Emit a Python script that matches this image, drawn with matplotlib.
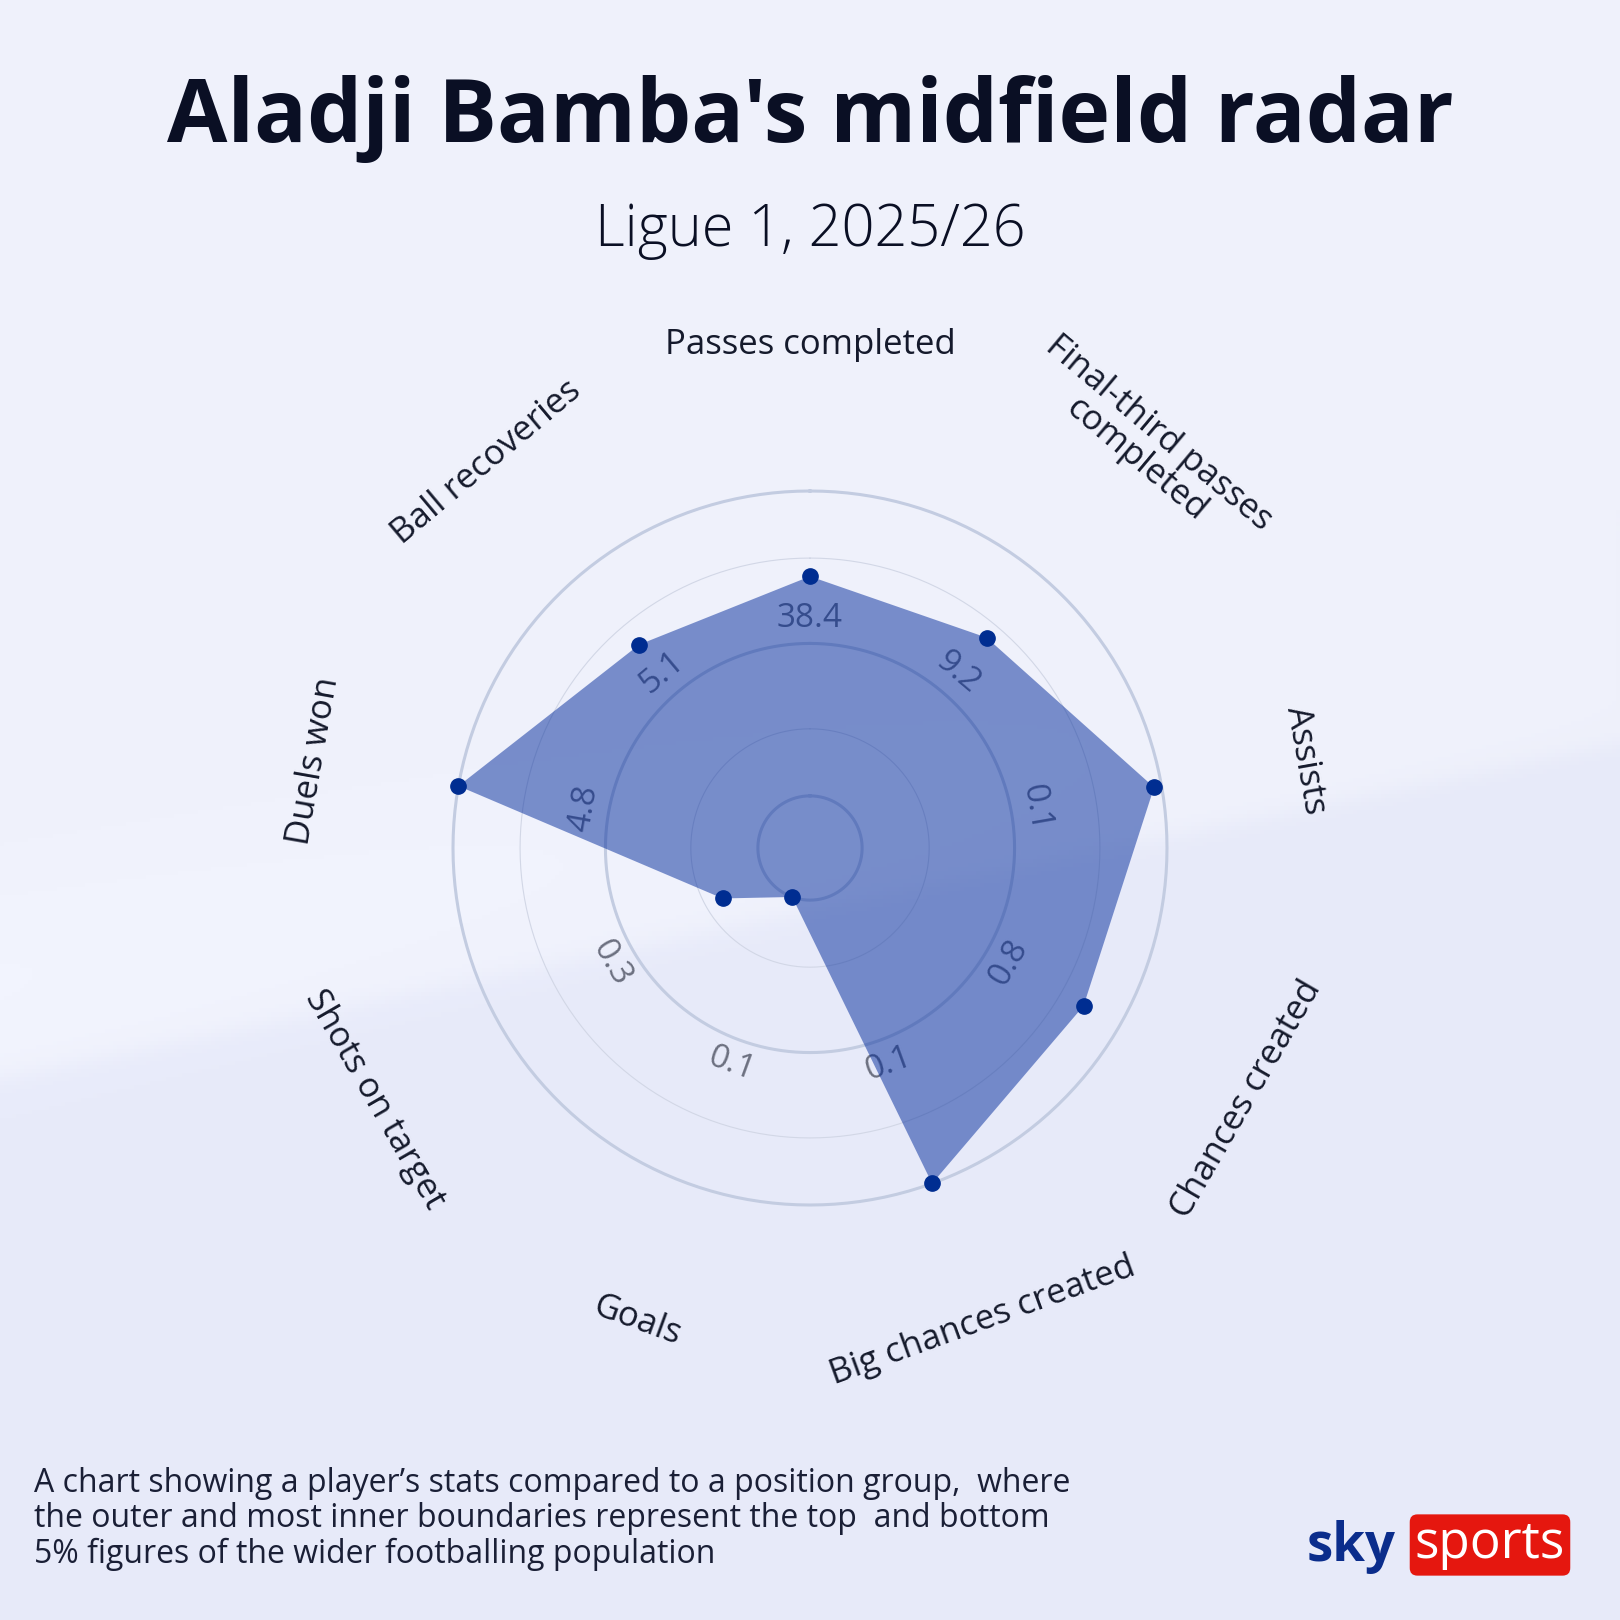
import numpy as np
import matplotlib
matplotlib.use('Agg')
import matplotlib.pyplot as plt

# dados do radar (percentil 0 = anel interno, 1 = anel externo)
categorias = ['Passes completed', 'Final-third passes\ncompleted', 'Assists', 'Chances created',
              'Big chances created', 'Goals', 'Shots on target', 'Duels won', 'Ball recoveries']
valores = ['38.4', '9.2', '0.1', '0.8', '0.1', '0.1', '0.3', '4.8', '5.1']
percentis = [0.72, 0.73, 0.975, 0.865, 1.0, 0.0, 0.16, 1.0, 0.70]
aneis = [0.0, 0.22, 0.5, 0.78, 1.0]

titulo = "Aladji Bamba's midfield radar"
subtitulo = 'Ligue 1, 2025/26'
nota = ["A chart showing a player\u2019s stats compared to a position group,  where",
        "the outer and most inner boundaries represent the top  and bottom",
        "5% figures of the wider footballing population"]

FONTE = ['Open Sans', 'DejaVu Sans']
R0 = 0.146  # raio do anel interno relativo ao externo


def raio(f):
    return R0 + f * (1 - R0)


def rotacao(theta_graus):
    r = (-theta_graus + 180) % 360 - 180
    if r > 90:
        r -= 180
    elif r < -90:
        r += 180
    return r


fig = plt.figure(figsize=(16.2, 16.2), dpi=100)

# fundo em degradê
fundo = fig.add_axes([0, 0, 1, 1], zorder=0)
h = w = 400
u, v = np.meshgrid(np.linspace(0, 1, w), np.linspace(0, 1, h))
linha = 0.666 - 0.207 * u
t = 1 / (1 + np.exp(-(v - linha) / 0.004))
topo = np.array([239, 241, 251]) / 255
base = np.array([231, 234, 249]) / 255
brilho = 0.012 * np.exp(-((v - linha + 0.06) / 0.08) ** 2) * (1 - u)
img = topo[None, None, :] * (1 - t[..., None]) + base[None, None, :] * t[..., None]
img = np.clip(img + brilho[..., None], 0, 1)
fundo.imshow(img, extent=[0, 1, 0, 1], aspect='auto', origin='upper')
fundo.axis('off')

fig.text(0.5, 1 - 119 / 1620, titulo, ha='center', va='center', fontsize=63,
         fontweight='bold', color='#0a0f24', family=FONTE, zorder=5)
fig.text(0.5, 1 - 231 / 1620, subtitulo, ha='center', va='center', fontsize=41.5,
         fontweight='light', color='#0a0f24', family=FONTE, zorder=5)

# radar
cx, cy, R = 810, 848, 357
rmax = 1.5
lado = 2 * R * rmax
ax = fig.add_axes([(cx - lado / 2) / 1620, (1620 - cy - lado / 2) / 1620, lado / 1620, lado / 1620],
                  projection='polar', zorder=2)
ax.set_facecolor('none')
ax.set_theta_zero_location('N')
ax.set_theta_direction(-1)
ax.set_ylim(0, rmax)
ax.grid(False)
ax.set_xticks([])
ax.set_yticks([])
ax.spines['polar'].set_visible(False)

n = len(categorias)
angulos = np.arange(n) * 2 * np.pi / n
circ = np.linspace(0, 2 * np.pi, 361)
for i, f in enumerate(aneis):
    grosso = i % 2 == 0
    ax.plot(circ, np.full_like(circ, raio(f)), color='#c3cce1' if grosso else '#d2d7e6',
            lw=2.2 if grosso else 0.8, zorder=1)

for ang, val in zip(angulos, valores):
    ax.text(ang, 0.643, val, ha='center', va='center', rotation=rotacao(np.degrees(ang)),
            rotation_mode='anchor', fontsize=24, color='#6c7080', family=FONTE, zorder=2)

rs = [raio(p) for p in percentis]
ax.fill(np.append(angulos, angulos[0]), rs + rs[:1], color='#00299a', alpha=0.5, lw=0, zorder=3)
ax.plot(angulos, rs, 'o', ms=11, color='#002d91', zorder=4, clip_on=False)

for ang, cat in zip(angulos, categorias):
    rr = 1.41 + 0.06 * cat.count('\n')
    ax.text(ang, rr, cat, ha='center', va='center', rotation=rotacao(np.degrees(ang)),
            rotation_mode='anchor', fontsize=25, color='#151a2c', family=FONTE,
            multialignment='center', linespacing=1.0, zorder=5)

# nota de rodapé
for i, linha_nota in enumerate(nota):
    fig.text(34 / 1620, 1 - (1483 + 35.6 * i) / 1620, linha_nota, ha='left', va='center',
             fontsize=23, color='#1a1f36', family=FONTE, zorder=5)

# logotipo
fig.text(1396 / 1620, 1 - 1547 / 1620, 'sky', ha='right', va='center', fontsize=38,
         fontweight='bold', color='#0b2d8c', family=FONTE, zorder=5)
fig.text(1490 / 1620, 1 - 1545 / 1620, 'sports', ha='center', va='center', fontsize=37,
         color='white', family=FONTE, zorder=6,
         bbox=dict(boxstyle='round,pad=0.1,rounding_size=0.15', fc='#e5170f', ec='none'))

fig.savefig('out.png', dpi=100)
